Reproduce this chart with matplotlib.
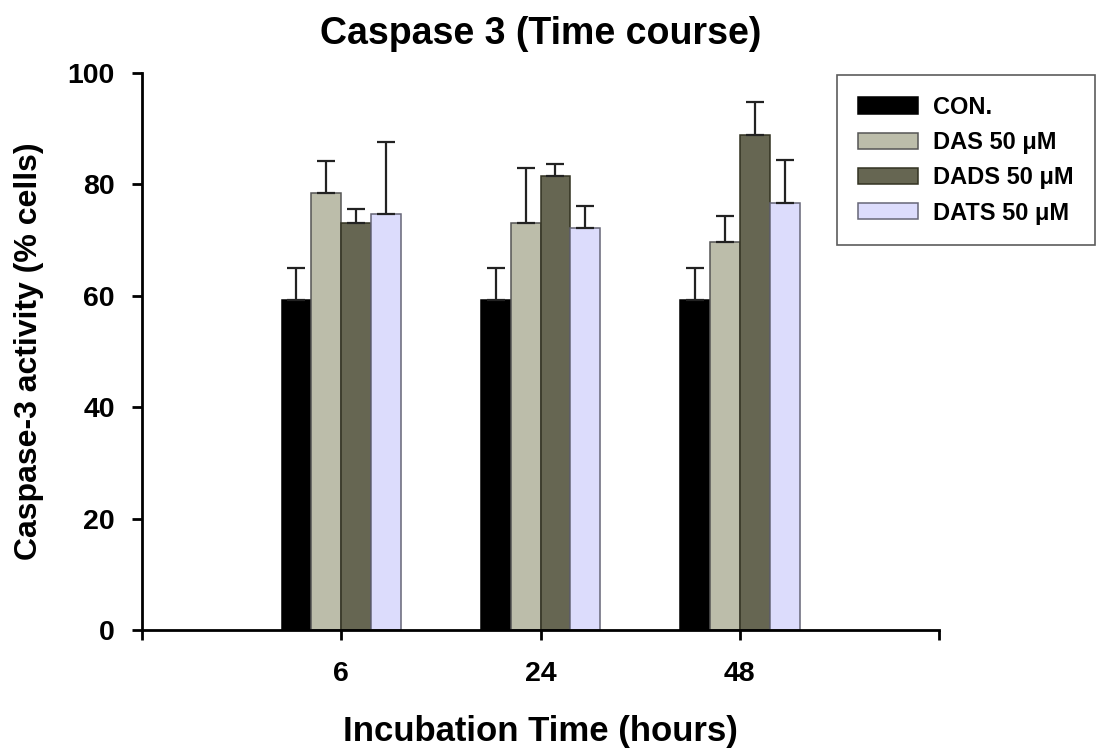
import matplotlib
matplotlib.use('agg')
import matplotlib.pyplot as plt
import numpy as np

plt.rcParams['font.family'] = ['Liberation Sans', 'DejaVu Sans']
plt.rcParams['font.weight'] = 'bold'

times = ['6', '24', '48']
groups = ['CON.', 'DAS 50 \u03bcM', 'DADS 50 \u03bcM', 'DATS 50 \u03bcM']
means = [
    [59.2, 59.2, 59.2],
    [78.5, 73.0, 69.7],
    [73.1, 81.5, 88.9],
    [74.7, 72.2, 76.6],
]
errors = [
    [5.8, 5.8, 5.8],
    [5.7, 9.9, 4.6],
    [2.5, 2.1, 5.9],
    [12.9, 3.9, 7.8],
]
colors = ['#000000', '#bcbdaa', '#666652', '#dcdcfc']
edges = ['#000000', '#555555', '#333322', '#666677']

fig = plt.figure(figsize=(10.96, 7.51), dpi=100)
ax = fig.add_axes([0.1296, 0.1611, 0.7272, 0.7417])

x = np.arange(1, len(times) + 1)
width = 0.15
for i in range(len(groups)):
    pos = x + (i - 1.5) * width
    ax.bar(pos, means[i], width, color=colors[i], edgecolor=edges[i],
           linewidth=1.1, label=groups[i], zorder=2)
    ax.errorbar(pos, means[i], yerr=[np.zeros(len(times)), errors[i]],
                fmt='none', ecolor='#222222', elinewidth=1.6, capsize=6.5,
                capthick=1.6, zorder=3)

ax.set_xlim(0, 4)
ax.set_ylim(0, 100)
ax.set_xticks([0, 1, 2, 3, 4])
ax.set_xticklabels(['', '6', '24', '48', ''])
ax.set_yticks([0, 20, 40, 60, 80, 100])
ax.tick_params(direction='out', length=7.5, width=2, labelsize=20.5)
ax.tick_params(axis='y', pad=12)
ax.tick_params(axis='x', pad=15)
for lab in ax.get_xticklabels() + ax.get_yticklabels():
    lab.set_fontweight('bold')
for s in ['top', 'right']:
    ax.spines[s].set_visible(False)
for s in ['left', 'bottom']:
    ax.spines[s].set_linewidth(2)

ax.set_xlabel('Incubation Time (hours)', fontsize=25, fontweight='bold', labelpad=20)
ax.set_ylabel('Caspase-3 activity (% cells)', fontsize=23, fontweight='bold', labelpad=17)
ax.set_title('Caspase 3 (Time course)', fontsize=27, fontweight='bold', pad=21)

leg = ax.legend(loc='upper left', bbox_to_anchor=(837 / 1096, 1 - 75 / 751),
                bbox_transform=fig.transFigure, fontsize=17,
                frameon=True, fancybox=False, edgecolor='#333333',
                handlelength=2.55, handleheight=0.68, borderpad=0.88,
                labelspacing=0.52, handletextpad=0.64, borderaxespad=0)
leg.get_frame().set_linewidth(1.2)
for t in leg.get_texts():
    t.set_fontweight('bold')

fig.savefig('out.png', dpi=100)
